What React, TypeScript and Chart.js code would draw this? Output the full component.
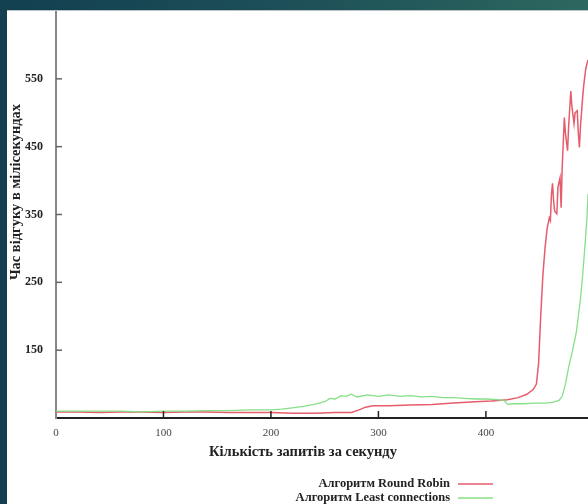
import React, { useEffect, useRef } from "react";
import { Chart, registerables } from "chart.js";

Chart.register(...registerables);

// Tick labels
const xTickValues = [0, 100, 200, 300, 400];
const yTickValues = [150, 250, 350, 450, 550];

// Axis texts
const xTitle = "Кількість запитів за секунду";
const yTitle = "Час відгуку в мілісекундах";
const rrLabel = "Алгоритм Round Robin";
const lcLabel = "Алгоритм Least connections";

// Round Robin series
const rrX = [0, 20, 40, 60, 80, 100, 120, 140, 160, 180, 200, 220, 240, 260, 275, 282, 288, 295, 310, 330, 350, 370, 390, 405, 420, 430, 438, 444, 447, 449, 451, 453, 455, 457, 459, 460, 461, 462, 463, 464, 466, 467, 469, 470, 471, 473, 474, 476, 477, 479, 480, 482, 483, 485, 486, 487, 488, 490, 491, 493, 495];
const rrY = [59, 59, 58, 59, 59, 58, 59, 59, 58, 58, 58, 57, 57, 58, 58, 62, 66, 68, 68, 69, 70, 72, 74, 75, 77, 80, 85, 92, 100, 130, 200, 260, 300, 330, 345, 341, 380, 396, 370, 355, 351, 390, 404, 360, 420, 493, 470, 444, 480, 532, 510, 484, 500, 503, 470, 449, 480, 522, 540, 566, 578];

// Least connections series
const lcX = [0, 20, 40, 60, 80, 100, 120, 140, 160, 180, 200, 210, 220, 230, 240, 250, 255, 260, 265, 270, 275, 280, 290, 300, 310, 320, 330, 340, 350, 360, 370, 380, 390, 400, 410, 417, 420, 425, 435, 445, 455, 462, 468, 471, 474, 477, 480, 482, 484, 486, 488, 490, 492, 494, 495];
const lcY = [60, 60, 60, 60, 59, 60, 60, 61, 61, 62, 62, 63, 65, 67, 70, 74, 79, 78, 83, 82, 85, 81, 84, 82, 84, 82, 83, 81, 82, 80, 80, 79, 78, 78, 77, 76, 70, 71, 71, 72, 72, 73, 76, 82, 100, 125, 145, 160, 175, 200, 225, 260, 300, 345, 380];

const RED = "#e65c6c";
const GREEN = "#86e086";
const SERIF = "'Liberation Serif', 'DejaVu Serif', serif";

const overlay = {
  id: "overlay",
  afterDraw(chart: any) {
    const ctx = chart.ctx;
    const { left, bottom } = chart.chartArea;
    const xs = chart.scales.x;
    const ys = chart.scales.y;
    ctx.save();
    // inward tick marks
    ctx.lineWidth = 1.5;
    ctx.strokeStyle = "#222";
    xs.ticks.forEach((t: any) => {
      const p = xs.getPixelForValue(t.value);
      if (p <= left + 2) return;
      ctx.beginPath();
      ctx.moveTo(p, bottom);
      ctx.lineTo(p, bottom - 7);
      ctx.stroke();
    });
    ctx.strokeStyle = "#666";
    ys.ticks.forEach((t: any) => {
      const p = ys.getPixelForValue(t.value);
      ctx.beginPath();
      ctx.moveTo(left, p);
      ctx.lineTo(left + 6, p);
      ctx.stroke();
    });
    // x title
    ctx.fillStyle = "#222";
    ctx.font = `bold 14.5px ${SERIF}`;
    ctx.textAlign = "center";
    ctx.textBaseline = "middle";
    ctx.fillText(xTitle, 296, bottom + 34);
    // y title
    ctx.save();
    ctx.translate(9, 181);
    ctx.rotate(-Math.PI / 2);
    ctx.fillText(yTitle, 0, 0);
    ctx.restore();
    // legend
    ctx.font = `bold 12.5px ${SERIF}`;
    ctx.textAlign = "right";
    ctx.fillText(rrLabel, 443, bottom + 66);
    ctx.fillText(lcLabel, 443, bottom + 80);
    ctx.lineWidth = 1.5;
    ctx.strokeStyle = RED;
    ctx.beginPath();
    ctx.moveTo(451, bottom + 66);
    ctx.lineTo(486, bottom + 66);
    ctx.stroke();
    ctx.strokeStyle = GREEN;
    ctx.beginPath();
    ctx.moveTo(451, bottom + 80);
    ctx.lineTo(486, bottom + 80);
    ctx.stroke();
    ctx.restore();
  },
};

export default function App() {
  const ref = useRef<HTMLCanvasElement>(null);
  useEffect(() => {
    document.body.style.margin = "0";
    document.body.style.overflow = "hidden";
    const chart = new Chart(ref.current!, {
      type: "line",
      data: {
        datasets: [
          {
            label: rrLabel,
            data: rrX.map((x, i) => ({ x, y: rrY[i] })),
            borderColor: RED,
            borderWidth: 1.5,
            pointRadius: 0,
            tension: 0,
            order: 2,
          },
          {
            label: lcLabel,
            data: lcX.map((x, i) => ({ x, y: lcY[i] })),
            borderColor: GREEN,
            borderWidth: 1.3,
            pointRadius: 0,
            tension: 0,
            order: 1,
          },
        ],
      },
      options: {
        animation: false,
        responsive: false,
        layout: { padding: 0 },
        plugins: { legend: { display: false }, tooltip: { enabled: false } },
        scales: {
          x: {
            type: "linear",
            min: 0,
            max: 495,
            grid: { display: false, drawTicks: false },
            border: { color: "#222", width: 2 },
            afterBuildTicks: (s: any) => {
              s.ticks = xTickValues.map((v) => ({ value: v }));
            },
            afterFit: (s: any) => {
              s.height = 87;
              s.paddingLeft = 0;
              s.paddingRight = 0;
            },
            ticks: {
              padding: 9,
              color: "#444",
              font: { family: SERIF, size: 11 },
              callback: (v: any) => String(v),
            },
          },
          y: {
            type: "linear",
            min: 50,
            max: 650,
            grid: { display: false, drawTicks: false },
            border: { color: "#888", width: 2 },
            afterBuildTicks: (s: any) => {
              s.ticks = yTickValues.map((v) => ({ value: v }));
            },
            afterFit: (s: any) => {
              s.width = 49;
              s.paddingTop = 0;
              s.paddingBottom = 0;
            },
            ticks: {
              padding: 13,
              color: "#222",
              font: { family: SERIF, size: 12, weight: "bold" },
              callback: (v: any) => String(v),
            },
          },
        },
      },
      plugins: [overlay],
    });
    return () => chart.destroy();
  }, []);
  return (
    <div
      style={{
        position: "relative",
        width: 588,
        height: 504,
        background: "linear-gradient(90deg, #133f50 0%, #1d5058 50%, #2d675f 100%)",
        overflow: "hidden",
      }}
    >
      <div
        style={{
          position: "absolute",
          left: 7,
          top: 10,
          width: 581,
          height: 494,
          background: "#fff",
          borderTop: "1px solid #b8c4c4",
        }}
      >
        <canvas ref={ref} width={581} height={494} style={{ display: "block" }} />
      </div>
    </div>
  );
}
